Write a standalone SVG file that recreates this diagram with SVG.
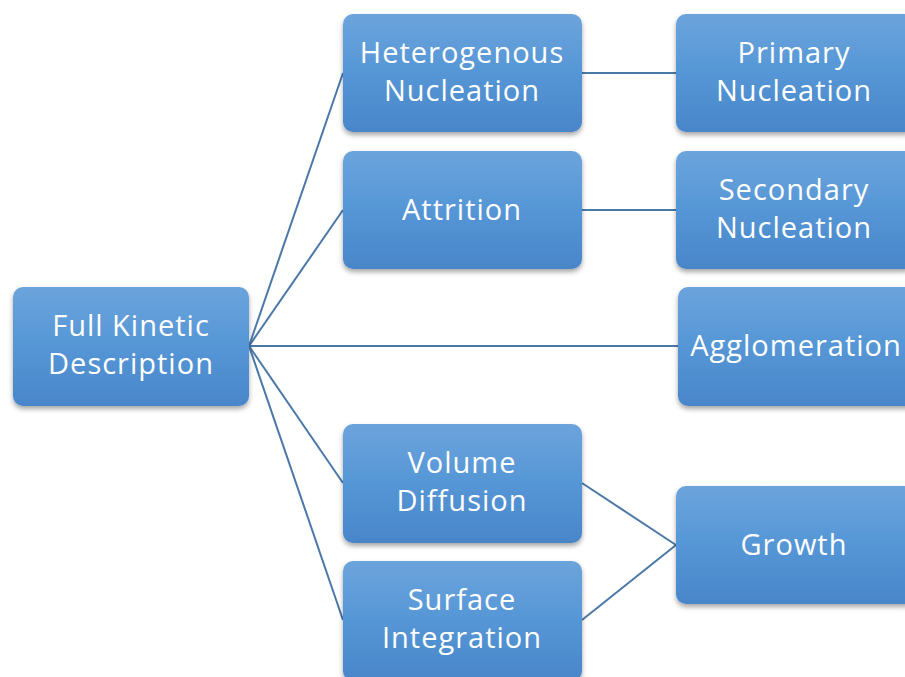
<svg xmlns="http://www.w3.org/2000/svg" width="905" height="677" viewBox="0 0 905 677">
<defs>
<linearGradient id="g" x1="0" y1="0" x2="0" y2="1">
<stop offset="0" stop-color="#6ca4dc"/>
<stop offset="0.5" stop-color="#5596d6"/>
<stop offset="1" stop-color="#4986c9"/>
</linearGradient>
<filter id="sh" x="-10%" y="-10%" width="120%" height="130%">
<feDropShadow dx="0" dy="3" stdDeviation="2.5" flood-color="#000" flood-opacity="0.35"/>
</filter>
</defs>
<style>
.box{fill:url(#g);filter:url(#sh)}
.t{font-family:"Open Sans","Noto Sans",sans-serif;font-size:29px;fill:#fff;text-anchor:middle;letter-spacing:1px}
.c{stroke:#4a78a8;stroke-width:2;fill:none}
</style>
<rect width="905" height="677" fill="#fff"/>
<g id="connectors">
<line class="c" x1="249" y1="346" x2="343" y2="73"/>
<line class="c" x1="249" y1="346" x2="343" y2="210"/>
<line class="c" x1="249" y1="346" x2="678" y2="346"/>
<line class="c" x1="249" y1="346" x2="343" y2="483"/>
<line class="c" x1="249" y1="346" x2="343" y2="620"/>
<line class="c" x1="582" y1="73" x2="676" y2="73"/>
<line class="c" x1="582" y1="210" x2="676" y2="210"/>
<line class="c" x1="582" y1="483" x2="676" y2="545"/>
<line class="c" x1="582" y1="620" x2="676" y2="545"/>
</g>
<g id="full-kinetic">
<rect class="box" x="13" y="287" width="236" height="119" rx="10"/>
<text class="t" x="131" y="336">Full Kinetic</text>
<text class="t" x="131" y="374">Description</text>
</g>
<g id="heterogenous">
<rect class="box" x="343" y="14" width="239" height="118" rx="10"/>
<text class="t" x="462" y="63">Heterogenous</text>
<text class="t" x="462" y="101">Nucleation</text>
</g>
<g id="attrition">
<rect class="box" x="343" y="151" width="239" height="118" rx="10"/>
<text class="t" x="462" y="220">Attrition</text>
</g>
<g id="volume-diffusion">
<rect class="box" x="343" y="424" width="239" height="119" rx="10"/>
<text class="t" x="462" y="473">Volume</text>
<text class="t" x="462" y="511">Diffusion</text>
</g>
<g id="surface-integration">
<rect class="box" x="343" y="561" width="239" height="120" rx="10"/>
<text class="t" x="462" y="610">Surface</text>
<text class="t" x="462" y="648">Integration</text>
</g>
<g id="primary">
<rect class="box" x="676" y="14" width="239" height="118" rx="10"/>
<text class="t" x="794" y="63">Primary</text>
<text class="t" x="794" y="101">Nucleation</text>
</g>
<g id="secondary">
<rect class="box" x="676" y="151" width="239" height="118" rx="10"/>
<text class="t" x="794" y="200">Secondary</text>
<text class="t" x="794" y="238">Nucleation</text>
</g>
<g id="agglomeration">
<rect class="box" x="678" y="287" width="239" height="119" rx="10"/>
<text class="t" x="796" y="356">Agglomeration</text>
</g>
<g id="growth">
<rect class="box" x="676" y="486" width="239" height="118" rx="10"/>
<text class="t" x="794" y="555">Growth</text>
</g>
</svg>
